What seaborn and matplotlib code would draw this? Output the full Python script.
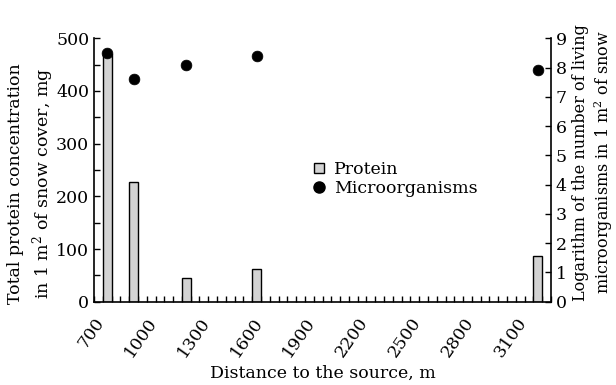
import matplotlib
matplotlib.use("Agg")
import matplotlib.pyplot as plt
import seaborn as sns
import pandas as pd
from matplotlib.lines import Line2D
from matplotlib.ticker import MultipleLocator

# Data
distance = [775, 925, 1225, 1625, 3225]
protein = [470, 228, 45, 63, 87]
micro_log = [8.5, 7.6, 8.1, 8.4, 7.9]
xtick_labels = [700, 1000, 1300, 1600, 1900, 2200, 2500, 2800, 3100]

sns.set_theme(style="white")
plt.rcParams['font.family'] = ['DejaVu Serif']
plt.rcParams['mathtext.fontset'] = 'dejavuserif'
plt.rcParams['text.color'] = 'black'
plt.rcParams['axes.labelcolor'] = 'black'
plt.rcParams['xtick.color'] = 'black'
plt.rcParams['ytick.color'] = 'black'
FS = 12.5

fig = plt.figure(figsize=(6.16, 3.85), dpi=100)
ax = fig.add_axes([0.1526, 0.2164, 0.7419, 0.6841])

df = pd.DataFrame({"distance": distance, "protein": protein})
sns.barplot(data=df, x="distance", y="protein", native_scale=True, width=1/3,
            color="#d3d3d3", saturation=1, edgecolor="black", linewidth=1.0,
            ax=ax, zorder=2)

ax.set_xlim(700, 3300)
ax.set_ylim(0, 500)
ax.set_xticks(xtick_labels)
ax.set_xticklabels([str(v) for v in xtick_labels], rotation=55, ha="right",
                   rotation_mode="anchor", fontsize=FS)
ax.xaxis.set_minor_locator(MultipleLocator(50))
ax.set_yticks(range(0, 501, 100))
ax.yaxis.set_minor_locator(MultipleLocator(50))
ax.tick_params(axis="both", which="both", direction="in", length=4, width=1,
               color="black", labelcolor="black", labelsize=FS)
ax.tick_params(axis="x", which="major", pad=9)
ax.tick_params(axis="both", which="both", bottom=True, left=True)
for s in ["top", "right"]:
    ax.spines[s].set_visible(False)
for s in ["left", "bottom"]:
    ax.spines[s].set_color("black")
    ax.spines[s].set_linewidth(1.2)
ax.set_xlabel("Distance to the source, m", fontsize=FS, labelpad=3, color="black")
ax.set_ylabel("Total protein concentration\nin 1 m$^2$ of snow cover, mg",
              fontsize=FS, linespacing=1.35, color="black")
ax.yaxis.set_label_coords(-0.083, 0.448)

ax2 = ax.twinx()
sns.scatterplot(x=distance, y=micro_log, ax=ax2, color="black", s=60,
                edgecolor="black", linewidth=0.5, zorder=3)
ax2.set_ylim(0, 9)
ax2.set_yticks(range(0, 10))
ax2.tick_params(axis="y", which="both", direction="in", length=4, width=1,
                color="black", labelcolor="black", labelsize=FS, right=True)
for s in ["top", "left", "bottom"]:
    ax2.spines[s].set_visible(False)
ax2.spines["right"].set_color("black")
ax2.spines["right"].set_linewidth(1.2)
ax2.set_ylabel("Logarithm of the number of living\nmicroorganisms in 1 m$^2$ of snow",
               fontsize=11.5, linespacing=1.2, color="black")
ax2.yaxis.set_label_coords(1.045, 0.53)

handles = [
    Line2D([0], [0], marker="s", color="none", markerfacecolor="#d3d3d3",
           markeredgecolor="black", markersize=7, markeredgewidth=1),
    Line2D([0], [0], marker="o", color="none", markerfacecolor="black",
           markeredgecolor="black", markersize=8),
]
fig.legend(handles, ["Protein", "Microorganisms"], loc="center left",
           bbox_to_anchor=(0.495, 0.535), frameon=False, fontsize=FS,
           handlelength=0.8, handletextpad=0.5, labelspacing=0.1,
           borderaxespad=0, labelcolor="black")

fig.savefig("out.png", dpi=100)
